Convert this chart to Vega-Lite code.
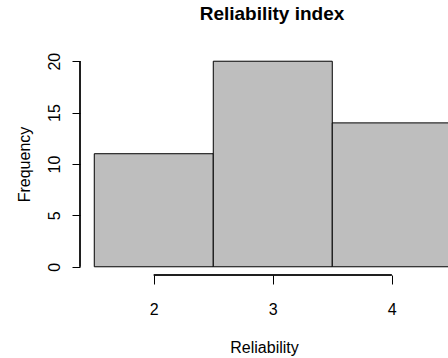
{
  "$schema": "https://vega.github.io/schema/vega-lite/v6.json",
  "autosize": {"type": "none"},
  "width": 368,
  "height": 222,
  "padding": {"left": 80, "top": 53, "right": 0, "bottom": 83},
  "background": "white",
  "config": {
    "view": {"stroke": null},
    "font": "Liberation Sans",
    "axis": {"labelFont": "Liberation Sans", "titleFont": "Liberation Sans", "labelColor": "black", "titleColor": "black", "tickColor": "black", "grid": false, "domain": false, "labelFontSize": 16, "titleFontSize": 16, "titleFontWeight": "normal"}
  },
  "title": {"text": "Reliability index", "font": "Liberation Sans", "fontSize": 19, "fontWeight": "bold", "color": "black", "anchor": "middle", "dx": 8, "offset": 28},
  "data": {"values": [
    {"bin_start": 1.5, "bin_end": 2.5, "count": 11},
    {"bin_start": 2.5, "bin_end": 3.5, "count": 20},
    {"bin_start": 3.5, "bin_end": 4.5, "count": 14}
  ]},
  "layer": [
    {
      "mark": {"type": "bar", "fill": "#bebebe", "stroke": "black", "strokeWidth": 1, "clip": true},
      "encoding": {
        "x": {"field": "bin_start", "type": "quantitative", "scale": {"domain": [1.38, 4.4725], "nice": false, "zero": false},
              "axis": {"values": [2, 3, 4], "format": "d", "tickSize": 9, "labelPadding": 17, "title": "Reliability", "titlePadding": 22, "labelFlush": false}},
        "x2": {"field": "bin_end"},
        "y": {"field": "count", "type": "quantitative", "scale": {"domain": [-0.8, 20.8], "nice": false, "zero": false},
              "axis": {"values": [0, 5, 10, 15, 20], "format": "d", "tickSize": 8, "labelAngle": 270, "labelAlign": "center", "labelBaseline": "bottom", "labelPadding": 10, "title": "Frequency", "titlePadding": 14, "labelFlush": false}},
        "y2": {"datum": 0}
      }
    },
    {
      "mark": {"type": "rule", "color": "black", "strokeWidth": 1},
      "encoding": {
        "x": {"datum": 2},
        "x2": {"datum": 4},
        "y": {"datum": -0.8}
      }
    },
    {
      "mark": {"type": "rule", "color": "black", "strokeWidth": 1},
      "encoding": {
        "x": {"datum": 1.38},
        "y": {"datum": 0},
        "y2": {"datum": 20}
      }
    }
  ]
}
